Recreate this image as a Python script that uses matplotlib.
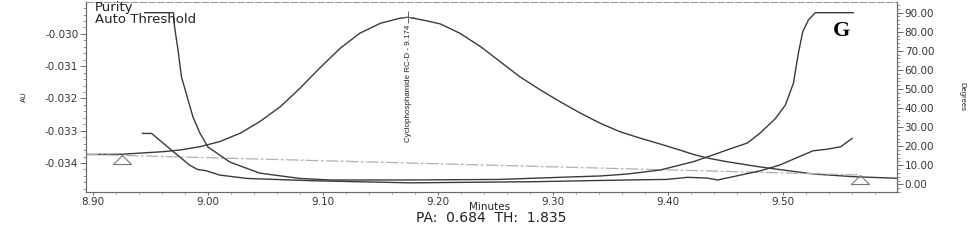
import numpy as np
import matplotlib
matplotlib.use("Agg")
import matplotlib.pyplot as plt
from matplotlib.ticker import MultipleLocator, FixedLocator, FuncFormatter

# ---------------- data ----------------
# Chromatogram (AU, left axis)
peak_t = [8.894, 8.925, 8.961, 8.976, 8.993, 9.010, 9.028, 9.045, 9.063, 9.080,
          9.097, 9.115, 9.132, 9.150, 9.167, 9.174, 9.189, 9.202, 9.219, 9.237,
          9.254, 9.271, 9.289, 9.306, 9.324, 9.341, 9.358, 9.376, 9.393, 9.410,
          9.422, 9.434, 9.451, 9.480, 9.526, 9.561, 9.599]
peak_au = [-0.033736, -0.033730, -0.033650, -0.033597, -0.033495, -0.033340,
           -0.033079, -0.032719, -0.032254, -0.031684, -0.031064, -0.030443,
           -0.029978, -0.029668, -0.029513, -0.029482, -0.029585, -0.029690,
           -0.029978, -0.030394, -0.030859, -0.031324, -0.031736, -0.032099,
           -0.032459, -0.032769, -0.033029, -0.033234, -0.033411, -0.033597,
           -0.033735, -0.033845, -0.033960, -0.034124, -0.034341, -0.034425,
           -0.034474]

# Baseline (AU) and integration marks
baseline_t = [8.894, 9.567]
baseline_au = [-0.033736, -0.034372]
mark_t = [8.925, 9.567]

peak_rt = 9.174
peak_name = "Cyclophosphamide RC-D - 9.174"

# Purity threshold curve (degrees, right axis)
thr_t = [8.945, 8.970, 8.971, 8.974, 8.977, 8.982, 8.987, 8.993, 9.000, 9.019,
         9.045, 9.080, 9.106, 9.176, 9.254, 9.306, 9.341, 9.364, 9.393, 9.422,
         9.439, 9.451, 9.469, 9.480, 9.493, 9.502, 9.509, 9.513, 9.517, 9.522,
         9.528, 9.561]
thr_deg = [90.0, 90.0, 82.5, 70.4, 56.3, 45.8, 35.3, 26.9, 19.6, 11.7,
           5.9, 3.1, 2.3, 2.3, 2.6, 3.7, 4.4, 5.4, 7.5, 11.9,
           15.4, 18.0, 21.7, 26.9, 34.3, 41.6, 53.1, 67.9, 79.9, 86.2,
           90.0, 90.0]

# Purity angle curve (degrees, right axis)
ang_t = [8.943, 8.951, 8.970, 8.984, 8.991, 8.998, 9.005, 9.010, 9.034, 9.091,
         9.176, 9.283, 9.364, 9.399, 9.417, 9.434, 9.443, 9.454, 9.480, 9.497,
         9.515, 9.526, 9.538, 9.550, 9.560]
ang_deg = [26.7, 26.7, 17.1, 10.1, 7.8, 7.2, 5.9, 4.9, 3.1, 1.9,
           0.8, 1.4, 2.3, 2.6, 3.7, 3.3, 2.3, 3.7, 7.1, 10.1,
           14.8, 17.6, 18.4, 19.7, 24.1]

x_ticks = [8.90, 9.00, 9.10, 9.20, 9.30, 9.40, 9.50]
au_ticks = [-0.034, -0.033, -0.032, -0.031, -0.030]
deg_ticks = [0, 10, 20, 30, 40, 50, 60, 70, 80, 90]

# ---------------- figure ----------------
W, H = 978, 240
fig = plt.figure(figsize=(W / 100, H / 100), dpi=100)
fig.patch.set_facecolor("white")

L, R, B, T = 86, 897, 192, 2
ax = fig.add_axes([L / W, 1 - B / H, (R - L) / W, (B - T) / H])
ax2 = ax.twinx()

line_c = "#3a3a3a"
spine_c = "#6a6a6a"

ax.plot(peak_t, peak_au, color=line_c, lw=1.0)
ax.plot(baseline_t, baseline_au, color="#b0b0b0", lw=0.9, ls=(0, (10, 2, 2, 2)))
tri = [(-1, -1), (1, -1), (0, 0), (-1, -1)]
ax.plot(mark_t, np.interp(mark_t, baseline_t, baseline_au), ls="none",
        marker=tri, ms=13, mfc="none", mec="#777777", mew=0.8)
ax.plot([peak_rt], [max(peak_au)], marker="+", ms=9, color="#666666", mew=0.7)
ax.text(peak_rt, max(peak_au) - 0.00024, peak_name, rotation=90, ha="center",
        va="top", fontsize=5.8, color="#222222",
        family=["Liberation Sans", "DejaVu Sans"])

ax2.plot(thr_t, thr_deg, color=line_c, lw=1.0)
ax2.plot(ang_t, ang_deg, color=line_c, lw=1.0)

ax.set_xlim(8.894, 9.599)
ax.set_ylim(-0.0349, -0.02901)
ax2.set_ylim(-4.0, 95.6)

ax.xaxis.set_major_locator(FixedLocator(x_ticks))
ax.xaxis.set_minor_locator(MultipleLocator(0.02))
ax.xaxis.set_major_formatter(FuncFormatter(lambda v, p: f"{v:.2f}"))
ax.yaxis.set_major_locator(FixedLocator(au_ticks))
ax.yaxis.set_minor_locator(MultipleLocator(0.0002))
ax.yaxis.set_major_formatter(FuncFormatter(lambda v, p: f"{v:.3f}".replace("\u2212", "-")))
ax2.yaxis.set_major_locator(FixedLocator(deg_ticks))
ax2.yaxis.set_minor_locator(MultipleLocator(2))
ax2.yaxis.set_major_formatter(FuncFormatter(lambda v, p: f"{v:.2f}"))

for a in (ax, ax2):
    a.tick_params(which="major", length=4, width=0.7, color=spine_c,
                  labelsize=7.5, labelcolor="#333333", pad=1.5)
    a.tick_params(which="minor", length=2, width=0.5, color=spine_c)
    for s in a.spines.values():
        s.set_color(spine_c)
        s.set_linewidth(0.8)
ax.tick_params(axis="x", which="major", length=2.5, pad=1)
ax.tick_params(axis="x", which="minor", length=1.5)
ax.spines["top"].set_color("#9a9a9a")
ax.spines["top"].set_linestyle((0, (6, 2)))
ax.spines["bottom"].set_color("#8a8a8a")
ax2.spines["top"].set_visible(False)
ax.set_facecolor("none")

# labels
def fx(px):
    return px / W

def fy(py):
    return 1 - py / H

fig.text(fx(95), fy(1.5), "Purity\nAuto Threshold", fontsize=9.5, color="#222222",
         va="top", ha="left", linespacing=0.85)
fig.text(fx(24), fy(97), "AU", rotation=90, fontsize=5.5, color="#222222",
         ha="center", va="center", family=["Liberation Sans", "DejaVu Sans"])
fig.text(fx(962), fy(97), "Degrees", rotation=270, fontsize=5.5, color="#222222",
         ha="center", va="center", family=["Liberation Sans", "DejaVu Sans"])
fig.text(fx(490), fy(207.5), "Minutes", fontsize=7.5, color="#222222",
         ha="center", va="center")
fig.text(fx(491), fy(218), "PA:  0.684  TH:  1.835", fontsize=10, color="#222222",
         ha="center", va="center")
fig.text(fx(842), fy(31), "G", fontsize=16, fontweight="bold", color="black",
         ha="center", va="center", family=["Liberation Serif", "DejaVu Serif"])

fig.savefig("out.png", dpi=100, facecolor="white")
